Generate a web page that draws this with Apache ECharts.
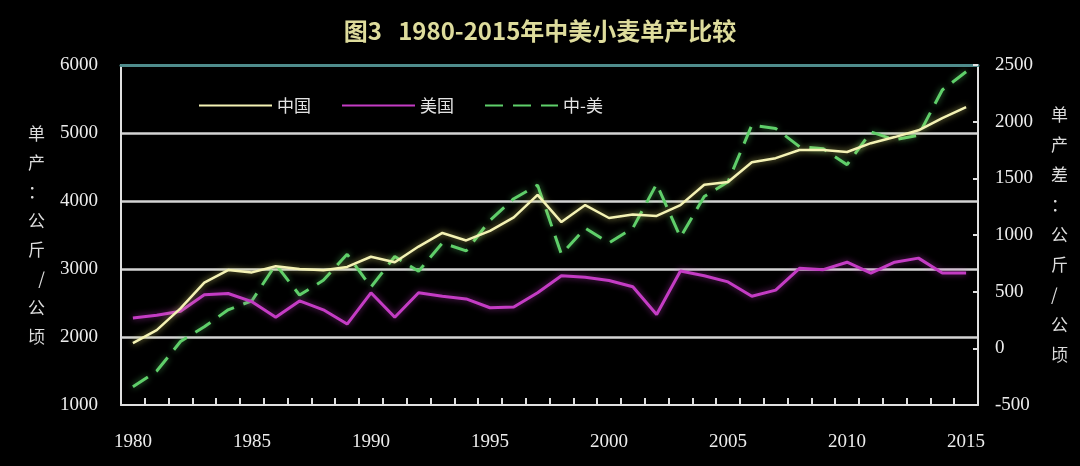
<!DOCTYPE html>
<html>
<head>
<meta charset="utf-8">
<script src="https://cdn.jsdelivr.net/npm/echarts@6/dist/echarts.min.js"></script>
<style>
  html, body { margin: 0; padding: 0; background: #000; }
  #chart { width: 1080px; height: 466px; }
</style>
</head>
<body>
<div id="chart"></div>
<script>
// 年份
var years = ['1980','1981','1982','1983','1984','1985','1986','1987','1988','1989',
             '1990','1991','1992','1993','1994','1995','1996','1997','1998','1999',
             '2000','2001','2002','2003','2004','2005','2006','2007','2008','2009',
             '2010','2011','2012','2013','2014','2015'];

// 中国小麦单产 (公斤/公顷)
var chinaYield = [1910, 2100, 2420, 2800, 2985, 2950, 3040, 3000, 2980, 3030,
                  3180, 3100, 3330, 3530, 3420, 3560, 3760, 4090, 3690, 3940,
                  3750, 3800, 3780, 3940, 4240, 4280, 4570, 4630, 4750, 4750,
                  4720, 4850, 4940, 5040, 5220, 5380];

// 美国小麦单产 (公斤/公顷)
var usaYield = [2280, 2320, 2380, 2620, 2640, 2520, 2290, 2530, 2400, 2190,
                2650, 2290, 2650, 2600, 2560, 2430, 2440, 2650, 2900, 2880,
                2830, 2740, 2330, 2970, 2900, 2810, 2600, 2690, 3010, 2990,
                3100, 2940, 3100, 3160, 2940, 2940];

// 中-美 单产差 (右轴)
var diffYield = [-340, -200, 60, 190, 340, 420, 740, 470, 600, 830,
                 540, 810, 680, 930, 860, 1130, 1320, 1440, 830, 1060,
                 930, 1060, 1450, 980, 1340, 1470, 1970, 1940, 1780, 1760,
                 1620, 1910, 1840, 1880, 2280, 2440];

var leftTicks = { min: 1000, max: 6000, step: 1000 };
var rightTicks = { min: -500, max: 2500, step: 500 };

var myChart = echarts.init(document.getElementById('chart'));

var labelFont = {
    color: '#ececec',
    fontFamily: 'Liberation Serif',
    fontSize: 19,
    formatter: function (v) { return String(v); }
};

var option = {
    backgroundColor: '#000',
    title: {
        text: '图3   1980-2015年中美小麦单产比较',
        left: 'center',
        top: 14,
        textStyle: {
            color: '#dedc9c',
            fontFamily: 'Noto Sans CJK SC',
            fontSize: 24,
            fontWeight: 'bold'
        }
    },
    legend: {
        data: ['中国', '美国', '中-美'],
        left: 193,
        top: 92,
        itemWidth: 73,
        itemHeight: 16,
        itemGap: 30,
        itemStyle: { opacity: 0, borderWidth: 0 },
        textStyle: {
            color: '#e4e4e4',
            fontFamily: 'Noto Sans CJK SC',
            fontSize: 17
        }
    },
    grid: {
        left: 121,
        right: 102,
        top: 65,
        bottom: 61,
        containLabel: false
    },
    xAxis: [{
        type: 'category',
        data: years,
        boundaryGap: true,
        z: 5,
        axisLine: { onZero: false, lineStyle: { color: '#e0e0e0', width: 2 } },
        axisTick: { show: true, inside: true, length: 7, interval: 0, lineStyle: { color: '#e0e0e0', width: 2 } },
        axisLabel: Object.assign({ interval: 4, margin: 28 }, labelFont),
        splitLine: { show: false }
    }, {
        // 顶部边框
        type: 'category',
        data: years,
        position: 'top',
        axisLine: { onZero: false, lineStyle: { color: '#4f8c8c', width: 3 } },
        axisTick: { show: false },
        axisLabel: { show: false }
    }],
    yAxis: [{
        type: 'value',
        min: leftTicks.min,
        max: leftTicks.max,
        interval: leftTicks.step,
        name: '单\n产\n：\n公\n斤\n/\n公\n顷',
        nameLocation: 'middle',
        nameRotate: 0,
        nameGap: 76,
        nameTextStyle: {
            color: '#dcdcdc',
            fontFamily: 'Noto Sans CJK SC',
            fontSize: 17,
            lineHeight: 29
        },
        axisLine: { show: true, onZero: false, lineStyle: { color: '#e0e0e0', width: 2 } },
        axisTick: { show: false },
        axisLabel: Object.assign({ margin: 23 }, labelFont),
        splitLine: {
            show: true,
            showMinLine: false,
            showMaxLine: false,
            lineStyle: { color: '#d4d4d4', width: 2.5 }
        }
    }, {
        type: 'value',
        min: rightTicks.min,
        max: rightTicks.max,
        interval: rightTicks.step,
        position: 'right',
        name: '单\n产\n差\n：\n公\n斤\n/\n公\n顷',
        nameLocation: 'middle',
        nameRotate: 0,
        nameGap: 73,
        nameTextStyle: {
            color: '#dcdcdc',
            fontFamily: 'Noto Sans CJK SC',
            fontSize: 17,
            lineHeight: 30
        },
        axisLine: { show: true, onZero: false, lineStyle: { color: '#e0e0e0', width: 2 } },
        axisTick: { show: true, inside: true, length: 5, lineStyle: { color: '#e0e0e0', width: 2 } },
        axisLabel: Object.assign({ margin: 17 }, labelFont),
        splitLine: { show: false }
    }],
    series: [{
        name: '中-美',
        type: 'line',
        yAxisIndex: 1,
        data: diffYield,
        symbol: 'none',
        z: 2,
        lineStyle: {
            color: '#5fcf6a',
            width: 3,
            type: [18, 10],
            shadowBlur: 6,
            shadowColor: 'rgba(95,207,106,0.6)'
        },
        itemStyle: { color: '#5fcf6a' }
    }, {
        name: '美国',
        type: 'line',
        yAxisIndex: 0,
        data: usaYield,
        symbol: 'none',
        z: 3,
        lineStyle: {
            color: '#c43cc4',
            width: 3,
            shadowBlur: 6,
            shadowColor: 'rgba(196,60,196,0.6)'
        },
        itemStyle: { color: '#c43cc4' }
    }, {
        name: '中国',
        type: 'line',
        yAxisIndex: 0,
        data: chinaYield,
        symbol: 'none',
        z: 4,
        lineStyle: {
            color: '#f4f2b4',
            width: 2.5,
            shadowBlur: 6,
            shadowColor: 'rgba(230,230,120,0.7)'
        },
        itemStyle: { color: '#f0ec90' }
    }]
};

myChart.setOption(option);
</script>
</body>
</html>
